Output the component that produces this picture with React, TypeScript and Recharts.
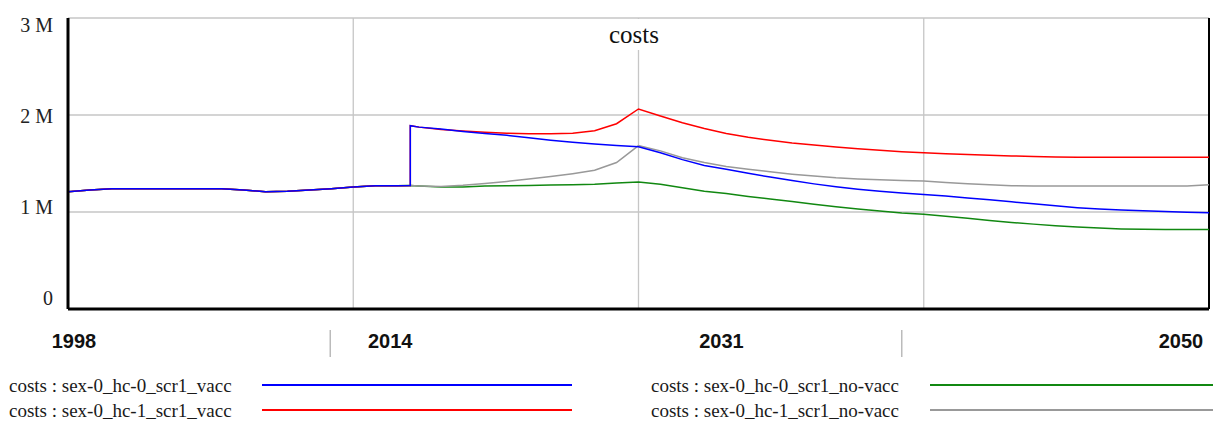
import { LineChart, Line, XAxis, YAxis, CartesianGrid, ReferenceLine } from 'recharts';

// x values (years); the jump year appears in both blocks so the step is vertical
const YEARS_PRE = [1998, 1999, 2000, 2001, 2002, 2003, 2004, 2005, 2006, 2007, 2008, 2009, 2010, 2011, 2012, 2013, 2013.6];
const YEARS_POST = [
  2013.6, 2014, 2015, 2016, 2017, 2018, 2019, 2020, 2021, 2022, 2023, 2024,
  2025, 2026, 2027, 2028, 2029, 2030, 2031, 2032, 2033, 2034, 2035, 2036, 2037,
  2038, 2039, 2040, 2041, 2042, 2043, 2044, 2045, 2046, 2047, 2048, 2049, 2050,
];

// costs in millions, identical for all four runs before the split
const SHARED_PRE = [1.21, 1.227, 1.24, 1.24, 1.24, 1.24, 1.24, 1.24, 1.227, 1.21, 1.215, 1.227, 1.24, 1.258, 1.271, 1.271, 1.272];

const HC0_VACC = [
  1.89, 1.875, 1.855, 1.83, 1.81, 1.79, 1.765, 1.74, 1.72, 1.7, 1.685, 1.673,
  1.61, 1.54, 1.48, 1.44, 1.4, 1.36, 1.325, 1.29, 1.26, 1.235, 1.215, 1.195, 1.18,
  1.165, 1.145, 1.127, 1.105, 1.085, 1.065, 1.045, 1.03, 1.02, 1.013, 1.005, 0.998, 0.993,
];
const HC1_VACC = [
  1.89, 1.875, 1.85, 1.835, 1.822, 1.812, 1.806, 1.806, 1.813, 1.838, 1.91, 2.062,
  1.99, 1.92, 1.86, 1.81, 1.77, 1.74, 1.712, 1.69, 1.67, 1.652, 1.636, 1.622, 1.61,
  1.6, 1.594, 1.586, 1.578, 1.572, 1.567, 1.565, 1.564, 1.564, 1.564, 1.564, 1.564, 1.564,
];
const HC0_NOVACC = [
  1.272, 1.268, 1.258, 1.258, 1.268, 1.27, 1.272, 1.278, 1.28, 1.286, 1.298, 1.309,
  1.285, 1.25, 1.215, 1.19, 1.16, 1.134, 1.108, 1.08, 1.053, 1.03, 1.01, 0.99, 0.977,
  0.955, 0.935, 0.912, 0.893, 0.875, 0.858, 0.845, 0.835, 0.826, 0.822, 0.82, 0.82, 0.82,
];
const HC1_NOVACC = [
  1.272, 1.268, 1.262, 1.275, 1.295, 1.315, 1.34, 1.365, 1.395, 1.43, 1.51, 1.684,
  1.63, 1.56, 1.51, 1.47, 1.44, 1.415, 1.39, 1.37, 1.352, 1.34, 1.333, 1.326, 1.32,
  1.305, 1.29, 1.28, 1.27, 1.268, 1.268, 1.268, 1.268, 1.268, 1.268, 1.268, 1.268, 1.28,
];

const X_GRID_TICKS = [1998, 2011, 2024, 2037, 2050];
const X_TICK_LABELS = ['1998', '2014', '2031', '', '2050'];
const Y_TICKS = [0, 1, 2, 3];
const Y_TICK_LABELS = ['0', '1 M', '2 M', '3 M'];

const SERIES = [
  { key: 'hc0novacc', name: 'costs : sex-0_hc-0_scr1_no-vacc', color: '#118811' },
  { key: 'hc1novacc', name: 'costs : sex-0_hc-1_scr1_no-vacc', color: '#999999' },
  { key: 'hc1vacc', name: 'costs : sex-0_hc-1_scr1_vacc', color: '#ff0000' },
  { key: 'hc0vacc', name: 'costs : sex-0_hc-0_scr1_vacc', color: '#0000ff' },
];

const data = [
  ...YEARS_PRE.map((year, i) => ({
    year,
    hc0vacc: SHARED_PRE[i],
    hc1vacc: SHARED_PRE[i],
    hc0novacc: SHARED_PRE[i],
    hc1novacc: SHARED_PRE[i],
  })),
  ...YEARS_POST.map((year, i) => ({
    year,
    hc0vacc: HC0_VACC[i],
    hc1vacc: HC1_VACC[i],
    hc0novacc: HC0_NOVACC[i],
    hc1novacc: HC1_NOVACC[i],
  })),
];

const SERIF = "'Liberation Serif', serif";

// Vensim puts its date labels off the grid, so each one has its own nudge
const X_LABEL_DX = [6, 37, 83, 0, -28];
const X_SEP_DX = [0, -23, 0, -22, 0];

const XTick = ({ x, index }: any) => {
  const label = X_TICK_LABELS[index];
  return (
    <g>
      {X_SEP_DX[index] !== 0 && (
        <line x1={x + X_SEP_DX[index]} x2={x + X_SEP_DX[index]} y1={330} y2={357} stroke="#bbbbbb" strokeWidth={1.5} />
      )}
      {label && (
        <text
          x={x + X_LABEL_DX[index]}
          y={341}
          textAnchor="middle"
          dominantBaseline="central"
          style={{ fontFamily: "'Liberation Sans', sans-serif", fontWeight: 'bold', fontSize: 20 }}
          fill="#111"
        >
          {label}
        </text>
      )}
    </g>
  );
};

const YTick = ({ y, payload }: any) => {
  const labelY = 24.5 + ((y - 18) * 91) / 97;
  return (
    <text x={53} y={labelY} textAnchor="end" dominantBaseline="central" style={{ fontFamily: SERIF, fontSize: 20 }} fill="#222">
      {Y_TICK_LABELS[payload.value]}
    </text>
  );
};

const legendRows = [
  { s: SERIES[3], textX: 9, lineX: 262, lineW: 310, top: 376 },
  { s: SERIES[2], textX: 9, lineX: 262, lineW: 310, top: 401 },
  { s: SERIES[0], textX: 651, lineX: 930, lineW: 283, top: 376 },
  { s: SERIES[1], textX: 651, lineX: 930, lineW: 283, top: 401 },
];

export default function App() {
  return (
    <div style={{ position: 'absolute', left: 0, top: 0, width: 1213, height: 422, background: '#fff', overflow: 'hidden', fontFamily: SERIF }}>
      <LineChart width={1213} height={422} data={data} margin={{ top: 18, right: 4, left: 0, bottom: 53 }}>
        <CartesianGrid stroke="#c6c6c6" strokeWidth={1.3} />
        <XAxis
          dataKey="year"
          type="number"
          domain={[1998, 2050]}
          ticks={X_GRID_TICKS}
          height={60}
          axisLine={{ stroke: '#000', strokeWidth: 3 }}
          tickLine={false}
          tick={<XTick />}
          interval={0}
        />
        <YAxis
          type="number"
          domain={[0, 3]}
          ticks={Y_TICKS}
          width={68}
          axisLine={{ stroke: '#000', strokeWidth: 3 }}
          tickLine={false}
          tick={<YTick />}
          interval={0}
        />
        <ReferenceLine x={2050} stroke="#000" strokeWidth={2} />
        {SERIES.map((s) => (
          <Line
            key={s.key}
            dataKey={s.key}
            name={s.name}
            type="linear"
            stroke={s.color}
            strokeWidth={1.5}
            dot={false}
            activeDot={false}
            isAnimationActive={false}
          />
        ))}
      </LineChart>

      <div
        style={{
          position: 'absolute',
          left: 599,
          top: 19,
          width: 70,
          height: 31,
          lineHeight: '31px',
          background: '#fff',
          textAlign: 'center',
          fontFamily: SERIF,
          fontSize: 25,
          color: '#111',
        }}
      >
        costs
      </div>

      {legendRows.map((r) => (
        <div key={r.s.key}>
          <div
            style={{
              position: 'absolute',
              left: r.textX,
              top: r.top,
              fontFamily: SERIF,
              fontSize: 19,
              lineHeight: '19px',
              color: '#1a1a1a',
              whiteSpace: 'nowrap',
            }}
          >
            {r.s.name}
          </div>
          <div
            style={{
              position: 'absolute',
              left: r.lineX,
              top: r.top + 8,
              width: r.lineW,
              height: 1.5,
              background: r.s.color,
            }}
          />
        </div>
      ))}
    </div>
  );
}
